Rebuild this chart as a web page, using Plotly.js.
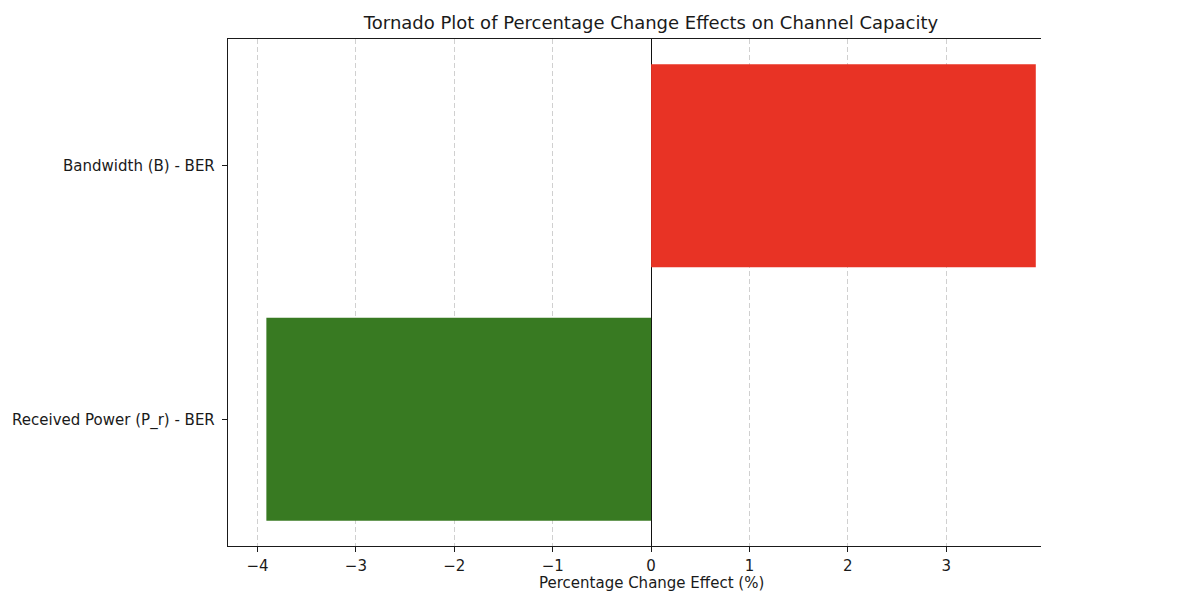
<!DOCTYPE html>
<html>
<head>
<meta charset="utf-8">
<script src="https://cdn.plot.ly/plotly-3.0.1.min.js"></script>
<style>html,body{margin:0;padding:0;background:#fff;}#chart{width:1200px;height:600px;}</style>
</head>
<body>
<div id="chart"></div>
<script>
const categories = ["Received Power (P_r) - BER", "Bandwidth (B) - BER"];
const effects = [-3.91, 3.91];
const tickValues = [-4, -3, -2, -1, 0, 1, 2, 3];
const tickLabels = ["\u22124", "\u22123", "\u22122", "\u22121", "0", "1", "2", "3"];

const barColors = effects.map(v => v < 0 ? "#387a22" : "#e83325");

const font = "DejaVu Sans, sans-serif";

const trace = {
  type: "bar",
  orientation: "h",
  y: categories,
  x: effects,
  width: 0.8,
  marker: {color: barColors, line: {width: 0}},
  hoverinfo: "x+y"
};

const layout = {
  width: 1200,
  height: 600,
  paper_bgcolor: "#fff",
  plot_bgcolor: "#fff",
  margin: {l: 228, r: 159, t: 39, b: 54, pad: 0},
  showlegend: false,
  font: {family: font, size: 15, color: "#1a1a1a"},
  title: {
    text: "Tornado Plot of Percentage Change Effects on Channel Capacity",
    font: {family: font, size: 18, color: "#1a1a1a"},
    xref: "container", yref: "container",
    x: 651 / 1200, y: 1 - 23 / 600,
    xanchor: "center", yanchor: "middle"
  },
  xaxis: {
    range: [-4.3, 3.963],
    tickvals: tickValues,
    ticktext: tickLabels,
    ticks: "outside",
    ticklen: 5,
    tickwidth: 1,
    tickcolor: "#1a1a1a",
    ticklabelstandoff: 1,
    showline: true,
    linecolor: "#1a1a1a",
    linewidth: 1.2,
    mirror: true,
    showgrid: true,
    gridcolor: "#d0d0d0",
    griddash: "5px,3px",
    gridwidth: 1,
    zeroline: true,
    zerolinecolor: "#111",
    zerolinewidth: 1,
    tickfont: {family: font, size: 15, color: "#1a1a1a"},
    fixedrange: true
  },
  yaxis: {
    type: "category",
    range: [-0.5, 1.5],
    ticks: "outside",
    ticklen: 5,
    tickwidth: 1,
    tickcolor: "#1a1a1a",
    ticklabelstandoff: 4,
    showline: true,
    linecolor: "#1a1a1a",
    linewidth: 1.2,
    mirror: false,
    showgrid: false,
    zeroline: false,
    tickfont: {family: font, size: 15, color: "#1a1a1a"},
    fixedrange: true
  },
  annotations: [{
    text: "Percentage Change Effect (%)",
    xref: "paper", yref: "paper",
    x: (651 - 228) / 813, y: 0,
    yshift: -37,
    xanchor: "center", yanchor: "middle",
    showarrow: false,
    font: {family: font, size: 15, color: "#1a1a1a"}
  }]
};

Plotly.newPlot("chart", [trace], layout, {displayModeBar: false, staticPlot: true});
</script>
</body>
</html>
